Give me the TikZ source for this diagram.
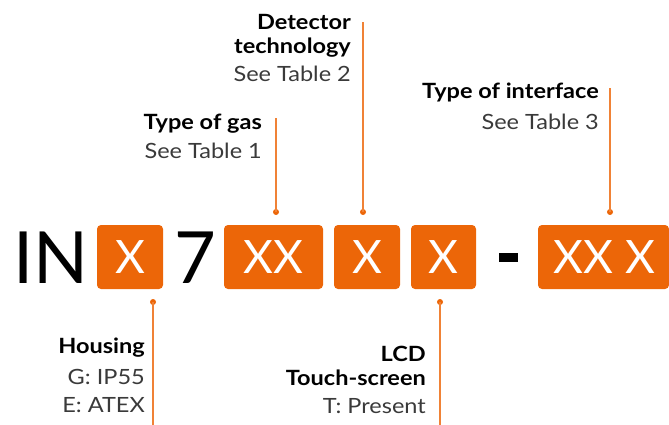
\documentclass[tikz,border=0pt]{standalone}
\usepackage{fontspec}
\setmainfont{Lato}
\newfontfamily\lblfont[FakeStretch=1.12]{Lato}
\definecolor{org}{HTML}{EC6608}
\definecolor{orgline}{HTML}{F08236}
\definecolor{txtgray}{HTML}{3A3A3A}
\begin{document}
\begin{tikzpicture}[x=1pt,y=-1pt,
  codebox/.style={fill=org, rounded corners=4pt, inner sep=0pt, minimum height=64pt},
  boxtxt/.style={text=white, font=\fontsize{46}{46}\selectfont, inner sep=0pt, anchor=base},
  bigtxt/.style={text=black, font=\fontsize{72}{72}\selectfont, inner sep=0pt, anchor=base west},
  lbold/.style={font=\lblfont\fontsize{21}{21}\selectfont\bfseries, text=black, inner sep=0pt, anchor=base east},
  lreg/.style={font=\lblfont\fontsize{21}{21}\selectfont, text=txtgray, inner sep=0pt, anchor=base east},
  pin/.style={draw=orgline, line width=1.5pt},
  pindot/.style={circle, fill=org, inner sep=0pt, minimum size=6pt}]
\useasboundingbox (0,0) rectangle (669,425);

% main code
\node[bigtxt] (in) at (13,283) {IN};
\node[codebox, minimum width=66pt] (b1) at (130,257) {};
\node[boxtxt] (t1) at (130,273) {X};
\node[bigtxt] (seven) at (174,283) {7};
\node[codebox, minimum width=99pt] (b2) at (273.5,257) {};
\node[boxtxt] (t2) at (273.5,273) {XX};
\node[codebox, minimum width=66pt] (b3) at (367,257) {};
\node[boxtxt] (t3) at (367,273) {X};
\node[codebox, minimum width=65pt] (b4) at (443.5,257) {};
\node[boxtxt] (t4) at (443.5,273) {X};
\node[fill=black, minimum width=19pt, minimum height=9pt, inner sep=0pt] (dash) at (508.5,257.5) {};
\node[codebox, minimum width=131pt] (b5) at (603.5,257) {};
\node[boxtxt] (t5) at (604.5,273) {XX X};

% dots
\node[pindot] (d1) at (153,302) {};
\node[pindot] (d2) at (276,212) {};
\node[pindot] (d3) at (363,212) {};
\node[pindot] (d4) at (440,302) {};
\node[pindot] (d5) at (610,212) {};

% free ends
\coordinate (e1) at (153,425);
\coordinate (e2) at (276,118);
\coordinate (e3) at (363,22);
\coordinate (e4) at (440,425);
\coordinate (e5) at (610,88);

\draw[pin] (d1.center) -- (e1);
\draw[pin] (d2.center) -- (e2);
\draw[pin] (d3.center) -- (e3);
\draw[pin] (d4.center) -- (e4);
\draw[pin] (d5.center) -- (e5);

% labels top
\node[lbold] (det1) at (351,30) {Detector};
\node[lbold] (det2) at (351,54) {technology};
\node[lreg] (det3) at (351,82) {See Table 2};

\node[lbold] (gas1) at (262,129) {Type of gas};
\node[lreg] (gas2) at (262,158) {See Table 1};

\node[lbold] (if1) at (599,99) {Type of interface};
\node[lreg] (if2) at (599,129) {See Table 3};

% labels bottom
\node[lbold] (h1) at (145,353) {Housing};
\node[lreg] (h2) at (145,384) {G: IP55};
\node[lreg] (h3) at (145,412) {E: ATEX};

\node[lbold] (l1) at (426,361) {LCD};
\node[lbold] (l2) at (426,385) {Touch-screen};
\node[lreg] (l3) at (426,413) {T: Present};
\end{tikzpicture}
\end{document}
